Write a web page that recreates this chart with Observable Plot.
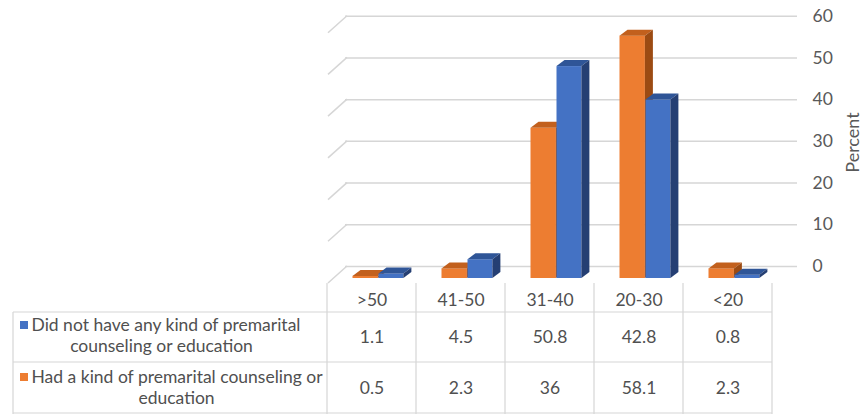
<!DOCTYPE html>
<html>
<head>
<meta charset="utf-8">
<script src="https://cdn.jsdelivr.net/npm/d3@7"></script>
<script src="https://cdn.jsdelivr.net/npm/@observablehq/plot@0.6"></script>
<style>
  html, body { margin: 0; padding: 0; background: #ffffff; }
  #chart { width: 868px; height: 414px; overflow: hidden; }
</style>
</head>
<body>
<div id="chart"></div>
<script>
// ---- Data ----
const categories = [">50", "41-50", "31-40", "20-30", "<20"];
const noCounseling = [1.1, 4.5, 50.8, 42.8, 0.8];
const hadCounseling = [0.5, 2.3, 36, 58.1, 2.3];
const seriesLines = [
  ["Did not have any kind of premarital", "counseling or education"],
  ["Had a kind of premarital counseling or", "education"]
];
const yTicks = [0, 10, 20, 30, 40, 50, 60];
const yTitle = "Percent";

// ---- Styles ----
const BLUE = "#4472C4", BLUE_TOP = "#2F5597", BLUE_SIDE = "#253F73";
const ORANGE = "#ED7D31", ORANGE_TOP = "#C2601D", ORANGE_SIDE = "#9C4B13";
const TEXT = "#595959", TABLE_TEXT = "#505050", GRID = "#D6D6D6";
const FONT = "Lato, 'Open Sans', sans-serif";
const TABLE_FS = 17.5;

const noRows = categories.map((c, i) => ({category: c, value: noCounseling[i]}));
const hadRows = categories.map((c, i) => ({category: c, value: hadCounseling[i]}));

const BAR_DY = 12;           // front of bars sits below the back wall
const DEPTH_X = 8, DEPTH_Y = 6;
const ORANGE_INSET = [25.5, 38.1];
const BLUE_INSET = [51.5, 12.6];

function bandwidthOf(x) { return typeof x.bandwidth === "function" ? x.bandwidth() : 89.6; }

// 3-D top and side faces of one series' bars
function faces(rows, topColor, sideColor, inset) {
  return (index, scales) => {
    const x = scales.x, y = scales.y;
    const bw = bandwidthOf(x);
    const g = d3.create("svg:g");
    rows.forEach(r => {
      const x0 = x(r.category) + inset[0], x1 = x(r.category) + bw - inset[1];
      const yt = y(r.value) + BAR_DY, yb = y(0) + BAR_DY;
      g.append("path")
        .attr("d", `M${x0},${yt}L${x1},${yt}L${x1 + DEPTH_X},${yt - DEPTH_Y}L${x0 + DEPTH_X},${yt - DEPTH_Y}Z`)
        .attr("fill", topColor);
      g.append("path")
        .attr("d", `M${x1},${yt}L${x1 + DEPTH_X},${yt - DEPTH_Y}L${x1 + DEPTH_X},${yb - DEPTH_Y}L${x1},${yb}Z`)
        .attr("fill", sideColor);
    });
    return g.node();
  };
}

// wall diagonals and table borders
function structure(index, scales) {
  const x = scales.x, y = scales.y;
  const bw = bandwidthOf(x);
  const left = x(categories[0]);
  const right = x(categories[categories.length - 1]) + bw;
  const g = d3.create("svg:g").attr("fill", "none");
  yTicks.forEach(t => {
    g.append("line")
      .attr("x1", left + 20).attr("y1", y(t))
      .attr("x2", left + 1).attr("y2", y(t) + 17)
      .attr("stroke", GRID).attr("stroke-width", 1.5);
  });
  categories.forEach(c => {
    g.append("line").attr("x1", x(c)).attr("x2", x(c)).attr("y1", 283).attr("y2", 414)
      .attr("stroke", GRID).attr("stroke-width", 1.2);
  });
  g.append("line").attr("x1", right).attr("x2", right).attr("y1", 283).attr("y2", 414).attr("stroke", GRID).attr("stroke-width", 1.2);
  g.append("line").attr("x1", 13).attr("x2", 13).attr("y1", 312).attr("y2", 414).attr("stroke", GRID).attr("stroke-width", 1.2);
  [312, 362, 413].forEach(yy => {
    g.append("line").attr("x1", 13).attr("x2", right).attr("y1", yy).attr("y2", yy).attr("stroke", GRID).attr("stroke-width", 1.2);
  });
  g.append("rect").attr("x", 20).attr("y", 321).attr("width", 8).attr("height", 8).attr("fill", BLUE);
  g.append("rect").attr("x", 20).attr("y", 373).attr("width", 8).attr("height", 8).attr("fill", ORANGE);
  return g.node();
}

const common = {lineAnchor: "middle", fill: TABLE_TEXT, fontSize: TABLE_FS};

const chart = Plot.plot({
  width: 868,
  height: 414,
  margin: 0,
  style: {fontFamily: FONT, fontSize: "15px", color: TEXT, background: "#ffffff"},
  x: {type: "band", domain: categories, range: [325, 773], padding: 0, axis: null},
  y: {type: "linear", domain: [0, 60], range: [266, 15.7], axis: null},
  marks: [
    Plot.ruleY(yTicks, {y: d => d, stroke: GRID, strokeWidth: 1.5, insetLeft: 345, insetRight: 71}),
    structure,
    Plot.text(yTicks, {y: d => d, text: d => String(d), frameAnchor: "left", dx: 812, textAnchor: "start",
      lineAnchor: "middle", fill: TEXT, fontSize: 17.5}),
    Plot.text([yTitle], {frameAnchor: "top-left", dx: 853, dy: 142, rotate: -90, text: d => d,
      textAnchor: "middle", lineAnchor: "middle", fill: TEXT, fontSize: 18}),
    Plot.barY(hadRows, {x: "category", y: "value", fill: ORANGE, dy: BAR_DY,
      insetLeft: ORANGE_INSET[0], insetRight: ORANGE_INSET[1]}),
    faces(hadRows, ORANGE_TOP, ORANGE_SIDE, ORANGE_INSET),
    Plot.barY(noRows, {x: "category", y: "value", fill: BLUE, dy: BAR_DY,
      insetLeft: BLUE_INSET[0], insetRight: BLUE_INSET[1]}),
    faces(noRows, BLUE_TOP, BLUE_SIDE, BLUE_INSET),
    Plot.text(categories, {x: d => d, text: d => d, frameAnchor: "top", dy: 300, ...common}),
    Plot.text(noRows, {x: "category", text: d => String(d.value), frameAnchor: "top", dy: 337, ...common}),
    Plot.text(hadRows, {x: "category", text: d => String(d.value), frameAnchor: "top", dy: 388, ...common}),
    Plot.text([seriesLines[0][0]], {text: d => d, frameAnchor: "top-left", dx: 31, dy: 325, textAnchor: "start", ...common}),
    Plot.text([seriesLines[0][1]], {text: d => d, frameAnchor: "top-left", dx: 161, dy: 346, textAnchor: "middle", ...common}),
    Plot.text([seriesLines[1][0]], {text: d => d, frameAnchor: "top-left", dx: 31, dy: 377, textAnchor: "start", ...common}),
    Plot.text([seriesLines[1][1]], {text: d => d, frameAnchor: "top-left", dx: 176, dy: 398, textAnchor: "middle", ...common})
  ]
});
document.getElementById("chart").appendChild(chart);
</script>
</body>
</html>
